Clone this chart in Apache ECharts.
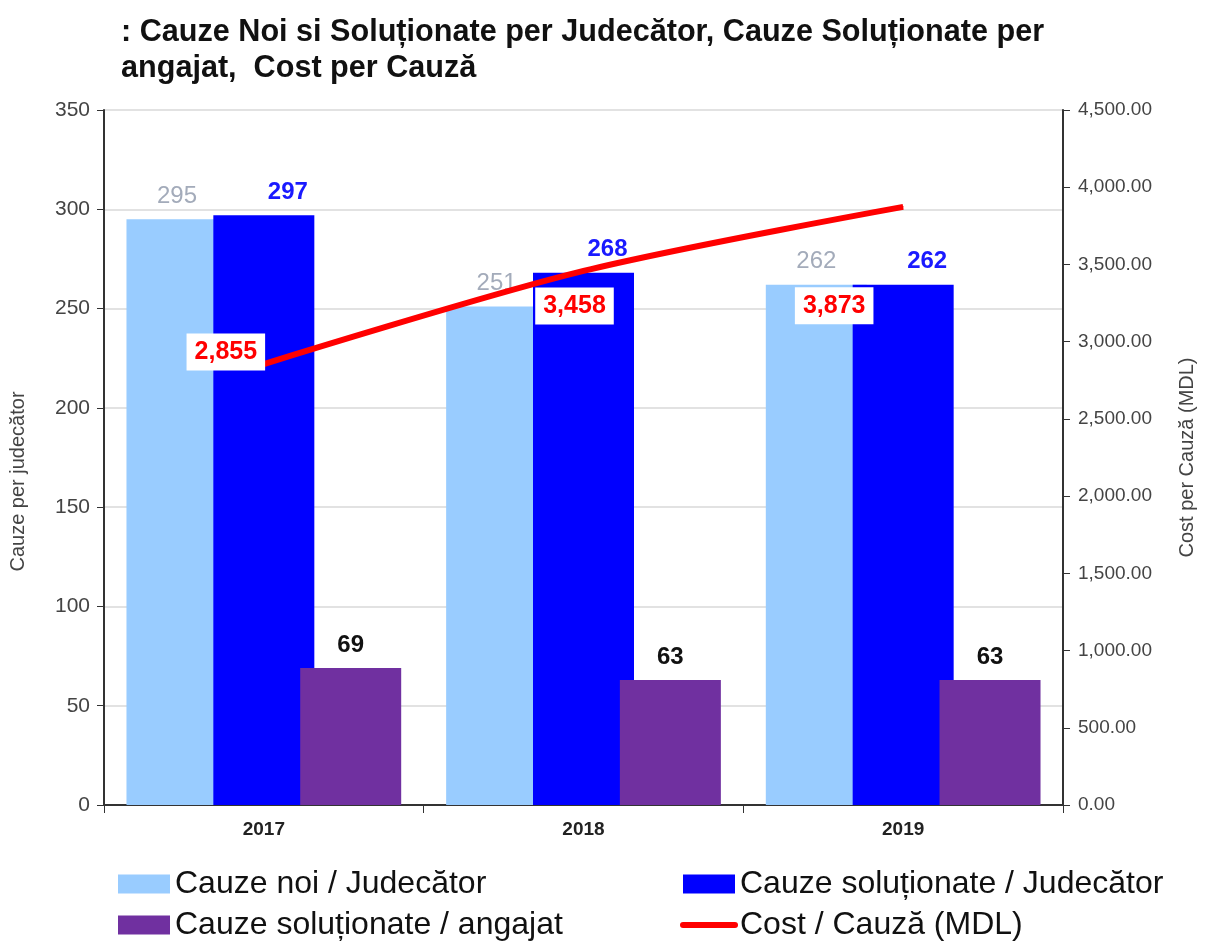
<!DOCTYPE html>
<html>
<head>
<meta charset="utf-8">
<script src="https://cdn.jsdelivr.net/npm/echarts@6/dist/echarts.min.js"></script>
<style>
  html, body { margin: 0; padding: 0; background: #fff; }
  #chart { width: 1205px; height: 943px; }
</style>
</head>
<body>
<div id="chart"></div>
<script>
const years = ['2017', '2018', '2019']
const cauzeNoi = [295, 251, 262]
const cauzeSolJud = [297, 268, 262]
const cauzeSolAng = [69, 63, 63]
const costCauza = [2855, 3458, 3873]

// where each cost label sits relative to its point
const costLabelOffsets = [[-38, -12], [-9, 35], [-69, 99]]

const font = 'Arial, "Liberation Sans", sans-serif'

const legendBase = {
    orient: 'vertical',
    top: 868,
    height: 160,
    padding: 0,
    itemWidth: 52,
    itemHeight: 19,
    itemGap: 9,
    lineStyle: { width: 6, cap: 'round' },
    textStyle: { fontFamily: font, fontSize: 32, color: '#111' }
}

let chart = echarts.init(document.getElementById('chart'))
chart.setOption({
    animation: false,
    title: {
        text: ': Cauze Noi si Soluționate per Judecător, Cauze Soluționate per\nangajat,  Cost per Cauză',
        left: 116,
        top: 10,
        textStyle: {
            fontFamily: font,
            fontWeight: 'bold',
            fontSize: 30.6,
            lineHeight: 36,
            color: '#111'
        }
    },
    legend: [
        Object.assign({}, legendBase, {
            left: 118,
            data: [
                { name: 'Cauze noi / Judecător', icon: 'rect' },
                { name: 'Cauze soluționate / angajat', icon: 'rect' }
            ]
        }),
        Object.assign({}, legendBase, {
            left: 680,
            data: [
                { name: 'Cauze soluționate / Judecător', icon: 'rect' },
                { name: 'Cost / Cauză (MDL)', itemStyle: { opacity: 0 } }
            ]
        })
    ],
    grid: { left: 104, right: 140, top: 110, bottom: 138 },
    xAxis: {
        type: 'category',
        data: years,
        axisLine: { lineStyle: { color: '#333', width: 2 } },
        axisTick: { show: true, length: 8, lineStyle: { color: '#333' } },
        axisLabel: { fontFamily: font, fontWeight: 'bold', fontSize: 19, color: '#222', margin: 15 }
    },
    yAxis: [
        {
            type: 'value',
            min: 0,
            max: 350,
            interval: 50,
            name: 'Cauze per judecător',
            nameLocation: 'middle',
            nameGap: 76,
            nameTextStyle: { fontFamily: font, fontSize: 20, color: '#444', padding: [0, 48, 0, 0] },
            axisLine: { show: true, lineStyle: { color: '#333', width: 2 } },
            axisTick: { show: true, length: 7, lineStyle: { color: '#333' } },
            axisLabel: { fontFamily: font, fontSize: 21, color: '#444', margin: 14 },
            splitLine: { lineStyle: { color: '#d9d9d9', width: 1.5 } }
        },
        {
            type: 'value',
            min: 0,
            max: 4500,
            interval: 500,
            name: 'Cost per Cauză (MDL)',
            nameLocation: 'middle',
            nameGap: 114,
            nameTextStyle: { fontFamily: font, fontSize: 20, color: '#444' },
            axisLine: { show: true, lineStyle: { color: '#333', width: 2 } },
            axisTick: { show: true, length: 7, lineStyle: { color: '#333' } },
            axisLabel: {
                fontFamily: font, fontSize: 19, color: '#444', margin: 15,
                formatter: v => v.toLocaleString('en-US', { minimumFractionDigits: 2, maximumFractionDigits: 2 })
            },
            splitLine: { show: false }
        }
    ],
    series: [
        {
            name: 'Cauze noi / Judecător',
            type: 'bar',
            data: cauzeNoi,
            barWidth: 101,
            barGap: '-14%',
            itemStyle: { color: '#99ccff' },
            label: {
                show: true, position: 'top', distance: 11,
                fontFamily: font, fontSize: 24, color: '#a3abba'
            }
        },
        {
            name: 'Cauze soluționate / Judecător',
            type: 'bar',
            data: cauzeSolJud,
            barWidth: 101,
            barGap: '-14%',
            itemStyle: { color: '#0000ff' },
            label: {
                show: true, position: 'top', distance: 11, offset: [24, 0],
                fontFamily: font, fontSize: 24, fontWeight: 'bold', color: '#1a1aff'
            }
        },
        {
            name: 'Cauze soluționate / angajat',
            type: 'bar',
            data: cauzeSolAng,
            barWidth: 101,
            barGap: '-14%',
            itemStyle: { color: '#7030a0' },
            label: {
                show: true, position: 'top', distance: 11,
                fontFamily: font, fontSize: 24, fontWeight: 'bold', color: '#111'
            }
        },
        {
            name: 'Cost / Cauză (MDL)',
            type: 'line',
            yAxisIndex: 1,
            smooth: 0.3,
            symbol: 'circle',
            symbolSize: 1,
            showSymbol: true,
            lineStyle: { color: '#ff0000', width: 6 },
            itemStyle: { color: '#ff0000' },
            z: 5,
            data: costCauza.map((v, i) => ({
                value: v,
                label: { offset: costLabelOffsets[i] }
            })),
            label: {
                show: true,
                position: 'inside',
                fontFamily: font,
                fontSize: 25,
                fontWeight: 'bold',
                color: '#ff0000',
                backgroundColor: '#fff',
                padding: [7, 8, 5, 8],
                formatter: p => p.value.toLocaleString('en-US')
            }
        }
    ]
})
</script>
</body>
</html>
